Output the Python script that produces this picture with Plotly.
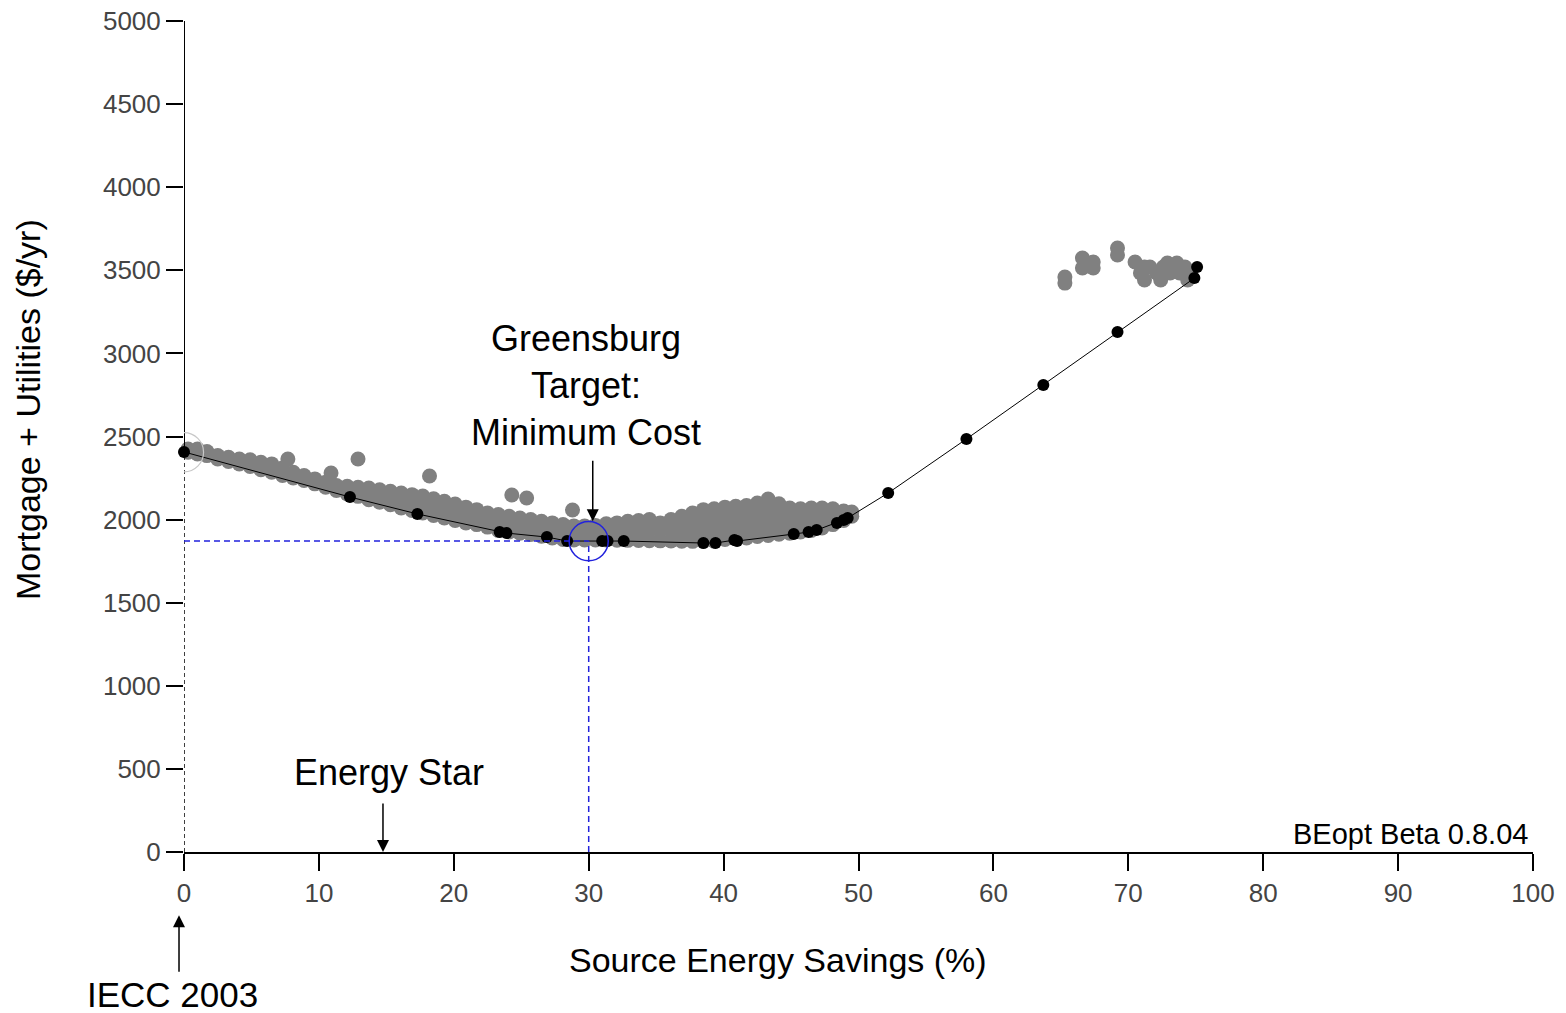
import plotly.graph_objects as go

# ---- Data ----
# Pareto-front (black) points: source energy savings (%) vs mortgage+utilities ($/yr)
front_x = [0, 12.3, 17.3, 23.4, 23.9, 26.9, 28.4, 31.0, 31.4, 32.6, 38.5, 39.4,
           40.8, 41.0, 45.2, 46.3, 46.9, 48.4, 48.9, 49.2, 52.2, 58.0, 63.7,
           69.2, 74.9, 75.1]
front_y = [2407, 2136, 2034, 1925, 1919, 1895, 1871, 1871, 1871, 1871, 1859, 1859,
           1877, 1871, 1913, 1925, 1937, 1980, 1998, 2010, 2160, 2485, 2810,
           3129, 3453, 3520]

# All other simulated designs (gray), grouped by savings column
gray_cols_x = [0.3, 1.0, 1.7, 2.5, 3.3, 4.1, 4.9, 5.7, 6.5, 7.3, 7.7, 8.1, 8.9, 9.7,
               10.5, 10.9, 11.3, 12.1, 12.9, 13.7, 14.5, 15.3, 16.1, 16.9, 17.7,
               18.2, 18.5, 19.3, 20.1, 20.9, 21.7, 22.5, 23.3, 24.1, 24.3, 24.9,
               25.4, 25.7, 26.5, 27.3, 28.1, 28.8, 28.9, 29.7, 30.5, 31.3, 32.1,
               32.9, 33.7, 34.5, 35.3, 36.1, 36.9, 37.7, 38.5, 39.3, 40.1, 40.9,
               41.7, 42.5, 43.3, 44.1, 44.9, 45.7, 46.5, 47.3, 48.1, 48.9, 49.5,
               65.3, 66.6, 66.9, 67.4, 69.2, 70.5, 70.9, 71.2, 71.6, 72.1, 72.4,
               72.6, 72.9, 73.1, 73.6, 73.8, 74.2, 74.4, 74.6]
gray_cols_y = [
    [2405, 2425], [2395, 2425], [2385, 2410], [2365, 2385], [2350, 2375],
    [2335, 2365], [2320, 2360], [2300, 2345], [2285, 2335], [2265, 2310],
    [2365], [2250, 2285], [2235, 2265], [2215, 2245], [2195, 2225], [2280],
    [2175, 2205], [2155, 2200], [2140, 2195, 2365], [2120, 2160, 2190],
    [2105, 2145, 2180], [2090, 2130, 2170], [2070, 2115, 2160],
    [2055, 2100, 2150], [2040, 2090, 2142], [2262], [2025, 2075, 2125],
    [2010, 2060, 2110], [1995, 2045, 2094], [1980, 2030, 2075],
    [1970, 2015, 2060], [1955, 2000, 2040], [1935, 1985, 2030],
    [1925, 1970, 2020], [2148], [1918, 1965, 2010], [2130], [1910, 1955, 2000],
    [1900, 1945, 1990], [1890, 1935, 1980], [1880, 1925, 1970], [2058],
    [1878, 1920, 1962], [1878, 1920, 1962], [1878, 1920, 1965],
    [1877, 1925, 1975], [1876, 1925, 1980], [1875, 1930, 1990],
    [1874, 1935, 1995], [1873, 1935, 2000], [1872, 1930, 1980],
    [1871, 1935, 2000], [1870, 1925, 1975, 2020], [1869, 1920, 1975, 2040],
    [1868, 1920, 1970, 2020, 2060], [1870, 1925, 1975, 2025, 2065],
    [1880, 1930, 1980, 2030, 2075], [1885, 1935, 1985, 2035, 2080],
    [1890, 1945, 1995, 2045, 2085], [1898, 1950, 2000, 2050, 2100],
    [1905, 1955, 2005, 2060, 2110, 2124], [1912, 1960, 2010, 2060, 2095],
    [1918, 1965, 2015, 2060, 2070], [1925, 1975, 2020, 2065],
    [1935, 1985, 2030, 2070], [1950, 1995, 2040, 2070],
    [1970, 2010, 2050, 2065], [1995, 2030, 2052], [2020, 2045],
    [3423, 3460], [3514, 3574], [3544], [3514, 3550], [3592, 3634], [3550],
    [3484], [3442, 3520], [3520], [3484], [3442], [3520], [3544], [3484],
    [3544], [3484], [3520], [3442], [3480],
]

x_ticks = [0, 10, 20, 30, 40, 50, 60, 70, 80, 90, 100]
y_ticks = [0, 500, 1000, 1500, 2000, 2500, 3000, 3500, 4000, 4500, 5000]

min_cost_x, min_cost_y = 30.0, 1871
base_x, base_y = 0, 2405
energy_star_x = 14.75

# ---- Build figure ----
gx, gy = [], []
for xv, ys in zip(gray_cols_x, gray_cols_y):
    for yv in ys:
        gx.append(xv)
        gy.append(yv)

fig = go.Figure()
fig.add_trace(go.Scatter(x=gx, y=gy, mode="markers",
                         marker=dict(color="#808080", size=15, line=dict(width=0)),
                         cliponaxis=False, hoverinfo="skip"))
fig.add_trace(go.Scatter(x=front_x, y=front_y, mode="lines+markers",
                         line=dict(color="black", width=1),
                         marker=dict(color="black", size=12, line=dict(width=0)),
                         cliponaxis=False))

FONT = "Liberation Sans, Arial, sans-serif"

shapes = [
    # y-axis: solid above baseline point, dashed below
    dict(type="line", xref="x", yref="y", x0=0, x1=0, y0=base_y, y1=5000,
         line=dict(color="black", width=2)),
    dict(type="line", xref="x", yref="y", x0=0, x1=0, y0=0, y1=base_y,
         line=dict(color="black", width=1.5, dash="4px,3px")),
    # blue dashed guides to minimum-cost point
    dict(type="line", xref="x", yref="y", x0=0, x1=min_cost_x, y0=min_cost_y, y1=min_cost_y,
         line=dict(color="#2222dd", width=1.5, dash="6px,4px")),
    dict(type="line", xref="x", yref="y", x0=min_cost_x, x1=min_cost_x, y0=0, y1=min_cost_y,
         line=dict(color="#2222dd", width=1.5, dash="6px,4px")),
    # circles
    dict(type="circle", xref="x", yref="y", x0=min_cost_x - 1.45, x1=min_cost_x + 1.45,
         y0=min_cost_y - 118, y1=min_cost_y + 118, line=dict(color="#2222dd", width=1.5)),
    dict(type="circle", xref="x", yref="y", x0=base_x - 1.45, x1=base_x + 1.45,
         y0=base_y - 118, y1=base_y + 118, line=dict(color="#c8c8c8", width=1.2)),
]

annotations = [
    dict(x=44.0, y=-0.130, xref="x", yref="paper", text="Source Energy Savings (%)",
         xanchor="center", yanchor="middle",
         showarrow=False, font=dict(size=34, color="black", family=FONT)),
    dict(x=-0.1156, y=0.532, xref="paper", yref="paper", text="Mortgage + Utilities ($/yr)",
         xanchor="center", yanchor="middle",
         showarrow=False, textangle=-90, font=dict(size=34, color="black", family=FONT)),
    dict(x=29.8, y=2804, xref="x", yref="y", text="Greensburg<br>Target:<br>Minimum Cost",
         xanchor="center", yanchor="middle",
         showarrow=False, font=dict(size=36, color="black", family=FONT)),
    dict(x=30.3, y=1990, xref="x", yref="y", text="", showarrow=True, arrowhead=2,
         arrowsize=1.6, arrowwidth=1.5, arrowcolor="black", ax=0, ay=-62),
    dict(x=15.2, y=481, xref="x", yref="y", text="Energy Star",
         xanchor="center", yanchor="middle",
         showarrow=False, font=dict(size=36, color="black", family=FONT)),
    dict(x=energy_star_x, y=0, xref="x", yref="y", text="", showarrow=True, arrowhead=2,
         arrowsize=1.6, arrowwidth=1.5, arrowcolor="black", ax=0, ay=-50),
    dict(x=-0.0037, y=-0.076, xref="paper", yref="paper", text="", showarrow=True,
         arrowhead=2, arrowsize=1.6, arrowwidth=1.5, arrowcolor="black", ax=0, ay=58),
    dict(x=-0.0082, y=-0.1715, xref="paper", yref="paper", text="IECC 2003",
         xanchor="center", yanchor="middle",
         showarrow=False, font=dict(size=35, color="black", family=FONT)),
    dict(x=99.8, y=108, xref="x", yref="y", text="BEopt Beta 0.8.04", xanchor="right",
         yanchor="middle",
         showarrow=False, font=dict(size=29, color="black", family=FONT)),
]

fig.update_layout(
    width=1566, height=1013,
    margin=dict(l=184, r=33, t=21, b=161, autoexpand=False),
    plot_bgcolor="white", paper_bgcolor="white",
    showlegend=False,
    shapes=shapes, annotations=annotations,
    font=dict(family=FONT),
)
fig.update_xaxes(range=[0, 100], tickvals=x_ticks, ticks="outside", ticklen=17,
                 tickwidth=1.5, tickcolor="black", showgrid=False, zeroline=False,
                 showline=True, linecolor="black", linewidth=2, automargin=False,
                 ticklabeloverflow="allow",
                 tickfont=dict(size=26, color="#444444", family=FONT))
fig.update_yaxes(range=[0, 5000], tickvals=y_ticks, ticks="outside", ticklen=17,
                 tickwidth=1.5, tickcolor="black", showgrid=False, zeroline=False,
                 showline=False, automargin=False,
                 ticklabeloverflow="allow",
                 tickfont=dict(size=26, color="#444444", family=FONT))

# remove the default 8px page margin so the figure fills the window exactly
fig.write_html("out.html", config={"displayModeBar": False},
               post_script="document.body.style.margin='0';document.body.style.overflow='hidden';")
